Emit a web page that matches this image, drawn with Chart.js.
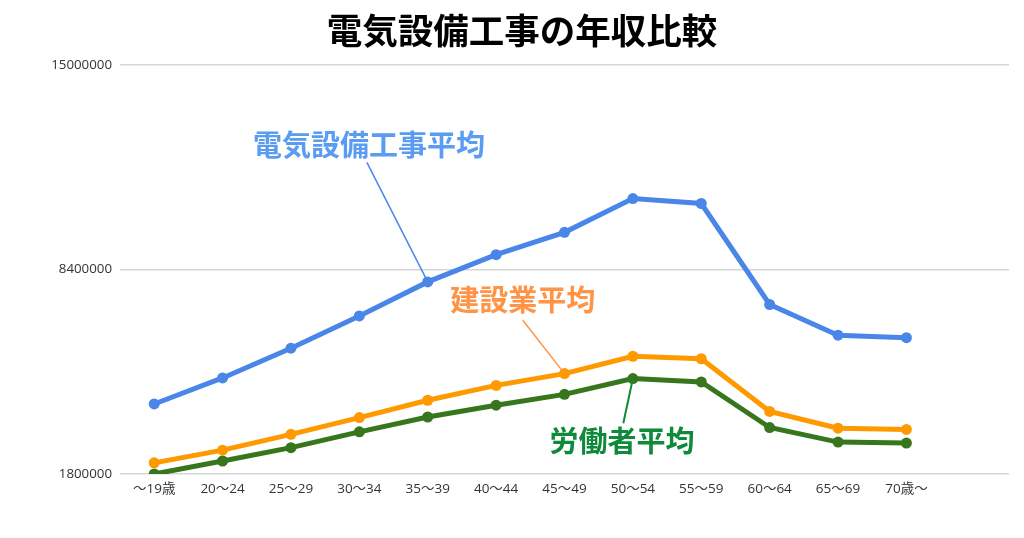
<!DOCTYPE html>
<html><head><meta charset="utf-8">
<script src="https://cdn.jsdelivr.net/npm/chart.js@4"></script>
<style>html,body{margin:0;padding:0;background:#fff}#wrap{width:1024px;height:538px;position:relative}</style>
</head><body><div id="wrap"><canvas id="c"></canvas></div>
<script>
const titleText = '電気設備工事の年収比較';
const categories = ['～19歳','20～24','25～29','30～34','35～39','40～44','45～49','50～54','55～59','60～64','65～69','70歳～',''];
const seriesNames = ['電気設備工事平均','建設業平均','労働者平均'];
const electrical = [4060000, 4900000, 5860000, 6900000, 8000000, 8880000, 9600000, 10690000, 10530000, 7270000, 6280000, 6200000];
const construction = [2160000, 2570000, 3080000, 3620000, 4180000, 4660000, 5040000, 5600000, 5520000, 3820000, 3280000, 3240000];
const workers = [1800000, 2220000, 2650000, 3160000, 3640000, 4020000, 4370000, 4880000, 4770000, 3300000, 2830000, 2800000];
const yTicks = [1800000, 8400000, 15000000];

// callouts: which series/point the leader points to, and label placement in data units
const callouts = [
  {series:0, point:4, labelX:3.14, labelY:12410000, fromX:3.11, fromY:11860000, text:'#5a9cf2', line:'#4a86e8', lw:1.5},
  {series:1, point:6, labelX:5.39, labelY:7410000, fromX:5.39, fromY:6760000, text:'#ff9447', line:'#ff9447', lw:1.5},
  {series:2, point:7, labelX:6.84, labelY:2855000, fromX:6.86, fromY:3440000, text:'#0e8a3a', line:'#0e8a3a', lw:2}
];

const CJK = '"Noto Sans CJK JP", "Noto Sans", sans-serif';
const TICKF = '"Open Sans", "Noto Sans CJK JP", sans-serif';

const deco = {
  id:'deco',
  afterDatasetsDraw(chart){
    const ctx = chart.ctx, xs = chart.scales.x, ys = chart.scales.y;
    ctx.save();
    callouts.forEach(c=>{
      const pt = chart.getDatasetMeta(c.series).data[c.point];
      ctx.strokeStyle = c.line; ctx.lineWidth = c.lw;
      ctx.beginPath();
      ctx.moveTo(xs.getPixelForValue(c.fromX), ys.getPixelForValue(c.fromY));
      ctx.lineTo(pt.x, pt.y);
      ctx.stroke();
      ctx.fillStyle = c.text;
      ctx.font = 'bold 29px ' + CJK;
      ctx.textAlign = 'center'; ctx.textBaseline = 'middle';
      ctx.fillText(seriesNames[c.series], xs.getPixelForValue(c.labelX), ys.getPixelForValue(c.labelY));
    });
    ctx.restore();
  },
  afterDraw(chart){
    const ctx = chart.ctx;
    ctx.save();
    ctx.fillStyle = '#000';
    ctx.font = 'bold 35.5px ' + CJK;
    ctx.textAlign = 'center'; ctx.textBaseline = 'middle';
    ctx.fillText(titleText, 522, 31);
    ctx.restore();
  }
};

const ds = (label, data, color, extra) => Object.assign({
  label, data, borderColor: color, backgroundColor: color,
  borderWidth: 5, pointRadius: 5.5, pointHoverRadius: 5.5,
  pointBackgroundColor: color, pointBorderColor: color, pointBorderWidth: 0,
  tension: 0, fill: false
}, extra || {});

new Chart(document.getElementById('c'), {
  type: 'line',
  data: {
    labels: categories,
    datasets: [
      ds(seriesNames[0], electrical, '#4a86e8'),
      ds(seriesNames[1], construction, '#ff9900'),
      ds(seriesNames[2], workers, '#38761d', {clip: 0})
    ]
  },
  options: {
    responsive: true, maintainAspectRatio: false, animation: false,
    layout: {padding: {top: 65, left: 0, right: 15, bottom: 0}},
    plugins: {legend: {display: false}, title: {display: false}, tooltip: {enabled: false}},
    scales: {
      x: {
        offset: true,
        grid: {display: false, drawTicks: false},
        border: {display: false},
        ticks: {color: '#333', font: {family: TICKF, size: 13.5}, padding: 7, maxRotation: 0, autoSkip: false},
        afterFit(s){ s.height = 64; }
      },
      y: {
        min: yTicks[0], max: yTicks[yTicks.length-1],
        afterBuildTicks(s){ s.ticks = yTicks.map(v=>({value:v})); },
        grid: {color: '#d6d6d6', lineWidth: 1.5, drawTicks: false},
        border: {display: false},
        ticks: {color: '#333', font: {family: TICKF, size: 13.3}, padding: 8, callback: v => String(v)},
        afterFit(s){ s.width = 120; }
      }
    }
  },
  plugins: [deco]
});
</script></body></html>
